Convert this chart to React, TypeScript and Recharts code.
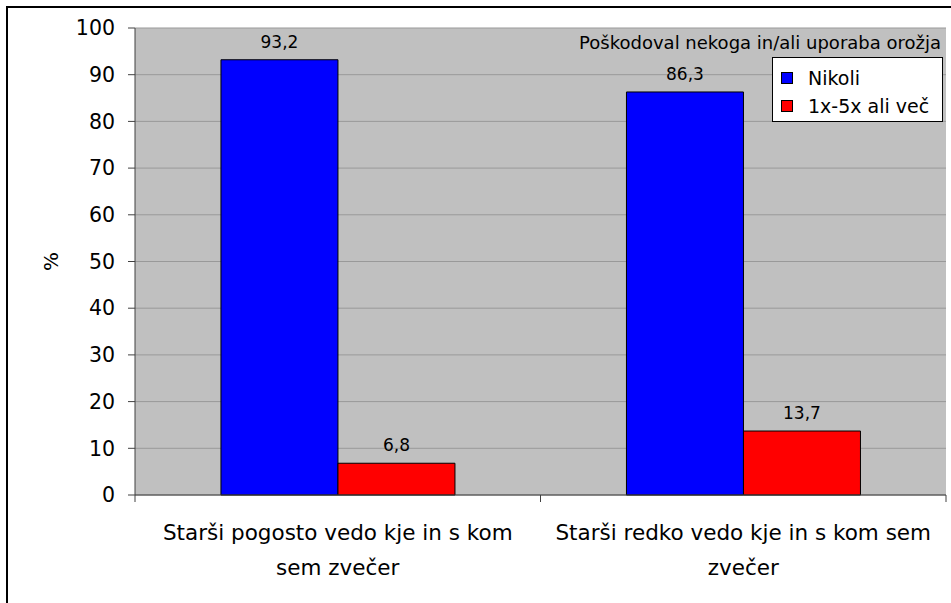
import React from 'react'
import {
  BarChart,
  Bar,
  XAxis,
  YAxis,
  CartesianGrid,
  LabelList,
  Legend,
} from 'recharts'

const categories = ['Starši pogosto vedo kje in s kom sem zvečer', 'Starši redko vedo kje in s kom sem zvečer']
const categoryLines = [
  ['Starši pogosto vedo kje in s kom', 'sem zvečer'],
  ['Starši redko vedo kje in s kom sem', 'zvečer'],
]
const nikoli = [93.2, 86.3]
const vecKrat = [6.8, 13.7]
const seriesOrder = ['Nikoli', '1x-5x ali več']
const yTicks = [0, 10, 20, 30, 40, 50, 60, 70, 80, 90, 100]
const legendTitle = 'Poškodoval nekoga in/ali uporaba orožja'

const data = categories.map((name, i) => ({
  name,
  nikoli: nikoli[i],
  vec: vecKrat[i],
}))

const FONT = '"DejaVu Sans", Verdana, sans-serif'

const CategoryTick = (props: any) => {
  const { x, y, index, width, visibleTicksCount } = props
  const lines = categoryLines[index] || [props.payload.value]
  const half = width / (2 * (visibleTicksCount || categories.length))
  return (
    <g>
      <line x1={x - half} y1={y} x2={x - half} y2={y + 7} stroke="#404040" />
      {index === categories.length - 1 && (
        <line x1={x + half} y1={y} x2={x + half} y2={y + 7} stroke="#404040" />
      )}
      {lines.map((line: string, i: number) => (
        <text
          key={i}
          x={x}
          y={y + 45 + i * 35}
          textAnchor="middle"
          fontSize={21.5}
          fontFamily={FONT}
          fill="#000"
        >
          {line}
        </text>
      ))}
    </g>
  )
}

const LegendBox = (props: any) => {
  const items = [...(props.payload || [])].sort(
    (a: any, b: any) => seriesOrder.indexOf(a.value) - seriesOrder.indexOf(b.value)
  )
  return (
    <div style={{ width: 380, textAlign: 'right', fontFamily: FONT }}>
      <div style={{ fontSize: 18, lineHeight: '20px', paddingRight: 2, whiteSpace: 'nowrap' }}>{legendTitle}</div>
      <div
        style={{
          display: 'inline-block',
          marginTop: 4,
          width: 171,
          boxSizing: 'border-box',
          border: '1px solid #000',
          background: '#fff',
          padding: '6px 0 1px 8px',
          textAlign: 'left',
        }}
      >
        {items.map((it: any) => (
          <div key={it.value} style={{ height: 28, display: 'flex', alignItems: 'center' }}>
            <span
              style={{
                width: 12,
                height: 12,
                boxSizing: 'border-box',
                border: '1px solid #000',
                background: it.color,
                marginRight: 15,
              }}
            />
            <span style={{ fontSize: 19, whiteSpace: 'nowrap' }}>{it.value}</span>
          </div>
        ))}
      </div>
    </div>
  )
}

const fmt = (v: any) => String(v).replace('.', ',')

export default function App() {
  return (
    <div
      style={{
        position: 'absolute',
        left: 0,
        top: 0,
        width: 951,
        height: 603,
        overflow: 'hidden',
        background: '#fff',
        fontFamily: FONT,
      }}
    >
      <div
        style={{
          position: 'absolute',
          left: 6,
          top: 6,
          width: 1000,
          height: 700,
          border: '2px solid #000',
        }}
      />
      <BarChart
        width={951}
        height={603}
        data={data}
        margin={{ top: 28, right: 5, bottom: 0, left: 0 }}
        barCategoryGap="21.2%"
        barGap={0}
      >
        <CartesianGrid fill="#c0c0c0" stroke="#999999" vertical={false} />
        <XAxis
          dataKey="name"
          height={108}
          tickLine={false}
          tickSize={0}
          tickMargin={0}
          axisLine={{ stroke: '#404040' }}
          tick={<CategoryTick />}
          interval={0}
        />
        <YAxis
          domain={[0, 100]}
          ticks={yTicks}
          width={135}
          tickSize={7}
          tickMargin={13}
          tick={{ fontSize: 20.5, fontFamily: FONT, fill: '#000' }}
          tickLine={{ stroke: '#404040' }}
          axisLine={{ stroke: '#404040' }}
          label={{
            content: (p: any) => {
              const vb = p.viewBox
              const cx = vb.x + 51
              const cy = vb.y + vb.height / 2
              return (
                <text
                  x={cx}
                  y={cy}
                  transform={`rotate(-90 ${cx} ${cy})`}
                  textAnchor="middle"
                  dominantBaseline="central"
                  fontSize={20}
                  fontFamily={FONT}
                  fill="#000"
                >
                  %
                </text>
              )
            },
          }}
        />
        <YAxis
          yAxisId="r"
          orientation="right"
          domain={[0, 100]}
          width={0}
          tick={false}
          tickLine={false}
          axisLine={{ stroke: '#808080' }}
        />
        <Legend
          layout="horizontal"
          verticalAlign="middle"
          align="center"
          content={<LegendBox />}
          wrapperStyle={{ left: 563, top: 33, width: 380, height: 'auto' }}
        />
        <Bar dataKey="nikoli" name="Nikoli" fill="#0000ff" stroke="#000" strokeWidth={1} isAnimationActive={false}>
          <LabelList dataKey="nikoli" position="top" offset={12} formatter={fmt} fontSize={17} fontFamily={FONT} fill="#000" />
        </Bar>
        <Bar dataKey="vec" name="1x-5x ali več" fill="#ff0000" stroke="#000" strokeWidth={1} isAnimationActive={false}>
          <LabelList dataKey="vec" position="top" offset={12} formatter={fmt} fontSize={17} fontFamily={FONT} fill="#000" />
        </Bar>
      </BarChart>
    </div>
  )
}
